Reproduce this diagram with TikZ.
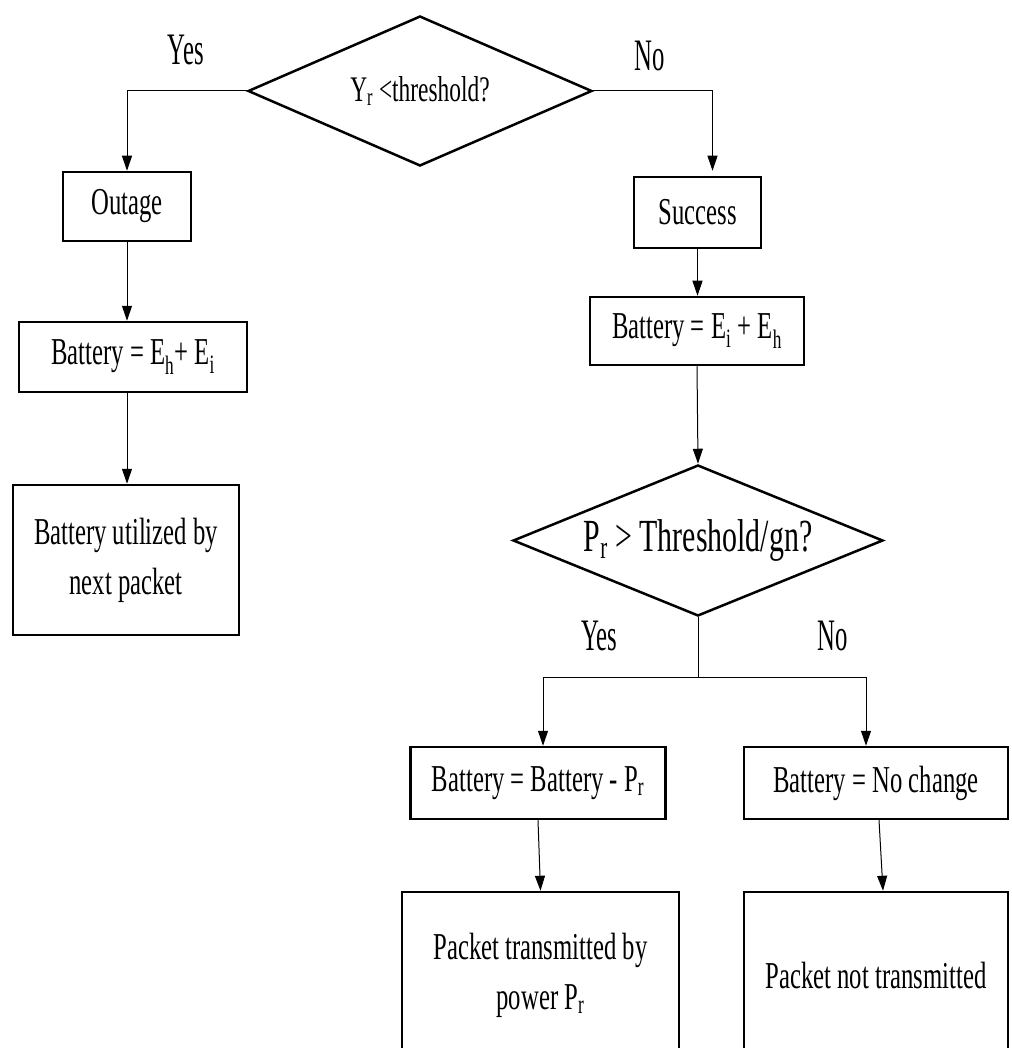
\documentclass[tikz,border=0pt]{standalone}
\usepackage{fontspec}
\setmainfont[FakeStretch=0.65]{Liberation Serif}
\newfontfamily\labelfont[FakeStretch=0.55]{Liberation Serif}
\usepackage{tikz}
\usetikzlibrary{arrows.meta, shapes.geometric}
\usetikzlibrary{positioning}

\begin{document}
\begin{tikzpicture}[x=1pt, y=-1pt,
	box/.style={rectangle, draw, line width=2.5pt, inner sep=0pt, align=center, font=\fontsize{38}{50}\selectfont},
	decision/.style={diamond, draw, line width=2.5pt, inner sep=0pt},
	answer/.style={font=\labelfont\fontsize{45}{50}\selectfont, anchor=base, inner sep=0pt},
	flow/.style={line width=1pt},
	connect/.style={flow, -{Triangle[length=15pt,width=10pt]}}]

		\useasboundingbox (0,0) rectangle (1011,1048);

		% first test
		\node [decision, minimum width=344pt, minimum height=150pt, aspect=2.3, font=\fontsize{36}{40}\selectfont] (check) at (420,91) {Y\textsubscript{r} <threshold?};

		% left branch
		\node [box, minimum width=128pt, minimum height=69pt] (outage) at (127,206.5) {Outage};
		\node [box, minimum width=228pt, minimum height=70pt] (charge) at (133,357) {Battery = E\textsubscript{h}+ E\textsubscript{i}};
		\node [box, minimum width=226pt, minimum height=150pt] (carry) at (126,560) {Battery utilized by\\next packet};

		% right branch
		\node [box, minimum width=127pt, minimum height=71pt] (success) at (697.5,212.5) {Success};
		\node [box, minimum width=214pt, minimum height=68pt] (store) at (697,331) {Battery = E\textsubscript{i} + E\textsubscript{h}};
		\node [decision, minimum width=370pt, minimum height=151pt, aspect=2.45, font=\fontsize{46}{50}\selectfont] (power) at (698,540.5) {P\textsubscript{r} > Threshold/gn?};
		\node [box, minimum width=255pt, minimum height=72pt] (spend) at (538,783) {Battery = Battery - P\textsubscript{r}};
		\node [box, minimum width=264pt, minimum height=72pt] (keep) at (876,783) {Battery = No change};
		\node [box, minimum width=277pt, minimum height=166pt] (sent) at (540.5,975) {Packet transmitted by\\power P\textsubscript{r}};
		\node [box, minimum width=264pt, minimum height=166pt] (held) at (876,975) {Packet not transmitted};

		% yes / no
		\node [answer] (yes1) at (186,65) {Yes};
		\node [answer] (no1) at (650,71) {No};
		\node [answer] (yes2) at (599,650) {Yes};
		\node [answer] (no2) at (833,650) {No};

		% arrows
		\draw [connect] (check.west) -| (outage.north);
		\draw [connect] (check.east) -| ([xshift=15pt, yshift=5pt]success.north);
		\draw [connect] (outage.south) -- (outage.south |- charge.north);
		\draw [connect] (outage.south |- charge.south) -- (outage.south |- carry.north);
		\draw [connect] (success.south) -- (success.south |- store.north);
		\draw [connect] (store.south) -- (power.north);
		\coordinate (split) at ([yshift=-60pt]power.south);
		\draw [flow] (power.south) -- (split);
		\draw [connect] (split) -| ([xshift=5pt]spend.north);
		\draw [connect] (split) -| ([xshift=-10pt]keep.north);
		\draw [connect] (spend.south) -- (sent.north);
		\draw [connect] ([xshift=3pt]keep.south) -- ([xshift=7pt]held.north);
\end{tikzpicture}
\end{document}
